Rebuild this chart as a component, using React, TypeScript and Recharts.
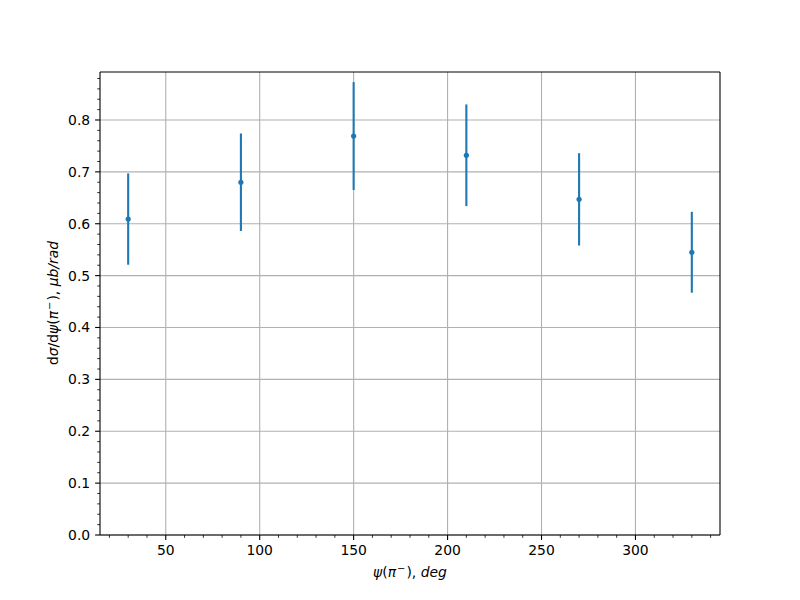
import React from 'react';
import { ScatterChart, Scatter, XAxis, YAxis, ErrorBar, ReferenceLine, Label } from 'recharts';

// angle psi(pi-), deg
const psi = [30, 90, 150, 210, 270, 330];
// dσ/dψ, μb/rad
const crossSection = [0.609, 0.68, 0.769, 0.732, 0.647, 0.545];
const errors = [0.088, 0.094, 0.104, 0.098, 0.089, 0.078];

const xMajor = [50, 100, 150, 200, 250, 300];
const yMajor = [0, 0.1, 0.2, 0.3, 0.4, 0.5, 0.6, 0.7, 0.8];
const xTicks = Array.from({ length: 33 }, (_, i) => 20 + i * 10);
const yTicks = Array.from({ length: 45 }, (_, i) => Math.round(i * 2) / 100);

const X_DOMAIN = [15, 345];
const Y_DOMAIN = [0, 0.8925];

const data = psi.map((p, i) => ({ psi: p, value: crossSection[i], err: errors[i] }));

const FONT = 'DejaVu Sans';
const BLUE = '#1f77b4';

const isMajorX = (v: number) => xMajor.includes(v);
const isMajorY = (v: number) => Math.abs(v * 10 - Math.round(v * 10)) < 1e-6;

const XTick = (props: any) => {
  const { x, y, payload } = props;
  const v = payload.value;
  const major = isMajorX(v);
  return (
    <g>
      <line x1={x} x2={x} y1={y} y2={y + (major ? 4.9 : 2.8)} stroke="#000" strokeWidth={major ? 1.1 : 0.8} />
      {major && (
        <text x={x} y={y + 20} textAnchor="middle" fontSize={13.9} fontFamily={FONT} fill="#000">
          {v}
        </text>
      )}
    </g>
  );
};

const YTick = (props: any) => {
  const { x, y, payload } = props;
  const v = payload.value;
  const major = isMajorY(v);
  return (
    <g>
      <line x1={x} x2={x - (major ? 4.9 : 2.8)} y1={y} y2={y} stroke="#000" strokeWidth={major ? 1.1 : 0.8} />
      {major && (
        <text x={x - 9.8} y={y + 5} textAnchor="end" fontSize={13.9} fontFamily={FONT} fill="#000">
          {v.toFixed(1)}
        </text>
      )}
    </g>
  );
};

const Dot = (props: any) => <circle cx={props.cx} cy={props.cy} r={2.6} fill={BLUE} />;

const XLabel = () => (
  <text x={410} y={577} textAnchor="middle" fontSize={13.9} fontFamily={FONT} fill="#000">
    <tspan fontStyle="italic">ψ</tspan>
    <tspan>(</tspan>
    <tspan fontStyle="italic">π</tspan>
    <tspan dy={-5} dx={1} fontSize={10}>−</tspan>
    <tspan dy={5} dx={1}>), </tspan>
    <tspan fontStyle="italic">deg</tspan>
  </text>
);

const YLabel = () => (
  <text
    x={0}
    y={0}
    transform="translate(58, 303) rotate(-90)"
    textAnchor="middle"
    fontSize={13.9}
    fontFamily={FONT}
    fill="#000"
  >
    <tspan>d</tspan>
    <tspan fontStyle="italic">σ</tspan>
    <tspan>/d</tspan>
    <tspan fontStyle="italic">ψ</tspan>
    <tspan>(</tspan>
    <tspan fontStyle="italic">π</tspan>
    <tspan dy={-5} dx={1} fontSize={10}>−</tspan>
    <tspan dy={5} dx={1}>), </tspan>
    <tspan fontStyle="italic">μb/rad</tspan>
  </text>
);

export default function App() {
  return (
    <div style={{ position: 'absolute', left: 0, top: 0, width: 800, height: 600, background: '#fff' }}>
      <ScatterChart width={800} height={600} margin={{ top: 72, right: 80, left: 0, bottom: 0 }}>
        {xMajor.map((v) => (
          <ReferenceLine key={'gx' + v} x={v} stroke="#b0b0b0" strokeWidth={1.1} />
        ))}
        {yMajor.map((v) => (
          <ReferenceLine key={'gy' + v} y={v} stroke="#b0b0b0" strokeWidth={1.1} />
        ))}
        <ReferenceLine y={Y_DOMAIN[1]} stroke="#000" strokeWidth={1.1} />
        <ReferenceLine x={X_DOMAIN[1]} stroke="#000" strokeWidth={1.1} />
        <XAxis
          type="number"
          dataKey="psi"
          domain={X_DOMAIN}
          ticks={xTicks}
          interval={0}
          height={65}
          tickSize={0}
          tickMargin={0}
          tickLine={false}
          tick={<XTick />}
          axisLine={{ stroke: '#000', strokeWidth: 1.1 }}
          allowDataOverflow
        >
          <Label content={<XLabel />} />
        </XAxis>
        <YAxis
          type="number"
          dataKey="value"
          domain={Y_DOMAIN}
          ticks={yTicks}
          interval={0}
          width={100}
          tickSize={0}
          tickMargin={0}
          tickLine={false}
          tick={<YTick />}
          axisLine={{ stroke: '#000', strokeWidth: 1.1 }}
          allowDataOverflow
        >
          <Label content={<YLabel />} />
        </YAxis>
        <Scatter data={data} fill={BLUE} shape={<Dot />} isAnimationActive={false}>
          <ErrorBar dataKey="err" direction="y" width={0} stroke={BLUE} strokeWidth={2.1} />
        </Scatter>
      </ScatterChart>
    </div>
  );
}
